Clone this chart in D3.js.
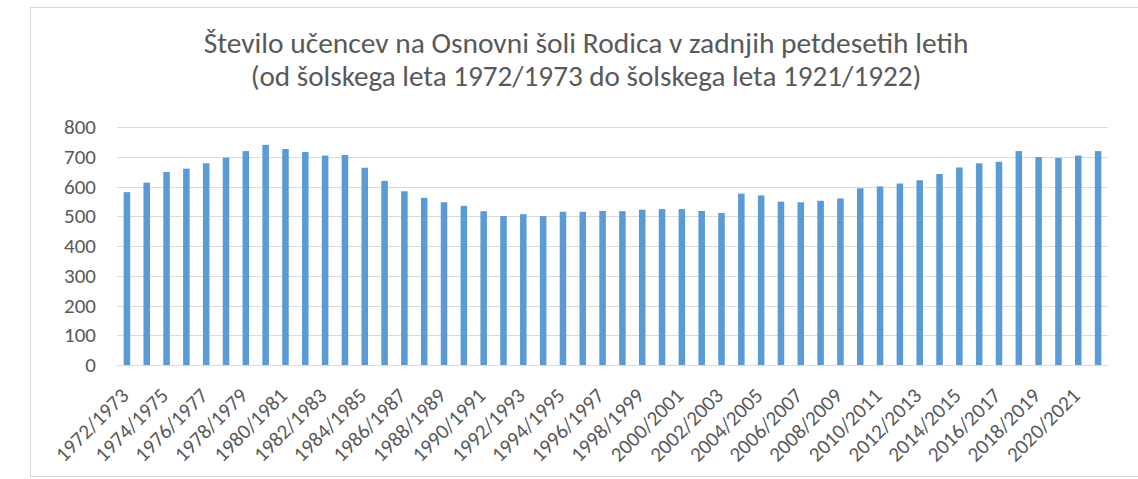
<!DOCTYPE html>
<html>
<head>
<meta charset="utf-8">
<script src="https://cdn.jsdelivr.net/npm/d3@7"></script>
<style>
	body { margin: 0; background: #fff; }
	svg { display: block; font-family: Carlito, Calibri, Lato, sans-serif; }
</style>
</head>
<body>
<div id="chart"></div>
<script>
// school years and pupil counts
var years = [
	"1972/1973", "1973/1974", "1974/1975", "1975/1976", "1976/1977", "1977/1978", "1978/1979", "1979/1980",
	"1980/1981", "1981/1982", "1982/1983", "1983/1984", "1984/1985", "1985/1986", "1986/1987", "1987/1988",
	"1988/1989", "1989/1990", "1990/1991", "1991/1992", "1992/1993", "1993/1994", "1994/1995", "1995/1996",
	"1996/1997", "1997/1998", "1998/1999", "1999/2000", "2000/2001", "2001/2002", "2002/2003", "2003/2004",
	"2004/2005", "2005/2006", "2006/2007", "2007/2008", "2008/2009", "2009/2010", "2010/2011", "2011/2012",
	"2012/2013", "2013/2014", "2014/2015", "2015/2016", "2016/2017", "2017/2018", "2018/2019", "2019/2020",
	"2020/2021", "2021/2022"
];
var pupils = [
	581, 613, 649, 660, 678, 697, 719, 740, 726, 716,
	704, 706, 663, 619, 584, 562, 547, 535, 517, 501,
	507, 501, 515, 515, 518, 517, 522, 524, 524, 518,
	511, 576, 570, 549, 547, 552, 560, 594, 600, 610,
	621, 642, 664, 678, 683, 719, 699, 696, 704, 719
];
var yTicks = [0, 100, 200, 300, 400, 500, 600, 700, 800];
var titleLines = [
	"Število učencev na Osnovni šoli Rodica v zadnjih petdesetih letih",
	"(od šolskega leta 1972/1973 do šolskega leta 1921/1922)"
];

var width = 1138, height = 479;
var margin = { top: 127, right: 30, bottom: 114, left: 117 };
var fontStack = "Carlito, Calibri, Lato, sans-serif";

var svg = d3.select("#chart").append("svg")
	.attr("width", width)
	.attr("height", height);

// chart frame
svg.append("rect")
	.attr("x", 30.5).attr("y", 7.5)
	.attr("width", width + 10).attr("height", 469)
	.attr("fill", "#fff")
	.attr("stroke", "#d9d9d9");

var x = d3.scaleBand()
	.domain(years)
	.range([margin.left, width - margin.right])
	.paddingInner(0.67)
	.paddingOuter(0.335);

var y = d3.scaleLinear()
	.domain([0, 800])
	.range([height - margin.bottom, margin.top]);

// title, two lines, squeezed to the width in the picture
var titleWidths = [765, 671];
svg.selectAll(".title")
	.data(titleLines)
	.enter()
	.append("text")
	.attr("class", "title")
	.attr("x", 586)
	.attr("y", (d, i) => 53 + i * 33)
	.attr("text-anchor", "middle")
	.attr("font-size", 24)
	.attr("fill", "#595959")
	.text(d => d)
	.each(function(d, i) {
		var w = this.getComputedTextLength();
		d3.select(this).attr("font-size", 24 * titleWidths[i] / w);
	});

// gridlines
svg.append("g")
	.selectAll("line")
	.data(yTicks.slice(1))
	.enter()
	.append("line")
	.attr("x1", margin.left)
	.attr("x2", width - margin.right)
	.attr("y1", d => Math.round(y(d)) + 0.5)
	.attr("y2", d => Math.round(y(d)) + 0.5)
	.attr("stroke", "#e0d9d6")
	.attr("stroke-width", 1.2);

// y axis labels
var yAxis = d3.axisLeft(y).tickValues(yTicks).tickSize(0).tickPadding(0);
svg.append("g")
	.attr("transform", "translate(96,0)")
	.call(yAxis)
	.call(g => g.select(".domain").remove())
	.selectAll("text")
	.attr("font-family", fontStack)
	.attr("font-size", 21)
	.attr("fill", "#595959");

// bars
svg.append("g")
	.selectAll("rect")
	.data(pupils)
	.enter()
	.append("rect")
	.attr("x", (d, i) => x(years[i]))
	.attr("y", d => y(d))
	.attr("width", x.bandwidth())
	.attr("height", d => y(0) - y(d))
	.attr("fill", "#5b9bd5");

// x axis line and every second label
var xAxis = d3.axisBottom(x)
	.tickValues(years.filter((d, i) => i % 2 === 0))
	.tickSize(0)
	.tickPadding(0);
var gx = svg.append("g")
	.attr("transform", "translate(0," + y(0) + ")")
	.call(xAxis);
gx.select(".domain")
	.attr("stroke", "#e0d9d6")
	.attr("stroke-width", 1.2);
gx.selectAll("text")
	.attr("font-family", fontStack)
	.attr("font-size", 21)
	.attr("fill", "#595959")
	.attr("text-anchor", "end")
	.attr("dy", 0)
	.attr("y", 0)
	.attr("transform", "translate(3,32) rotate(-45)");
</script>
</body>
</html>
